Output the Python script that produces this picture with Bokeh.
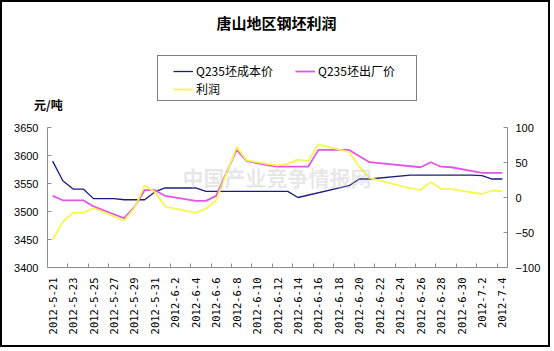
import math
import pandas as pd
from bokeh.plotting import figure
from bokeh.models import Range1d, LinearAxis, FixedTicker, Label, Legend, LegendItem
from bokeh.embed import file_html
from bokeh.resources import INLINE

title_text = "唐山地区钢坯利润"
unit_text = "元/吨"
watermark_text = "中国产业竞争情报网"
series_names = ["Q235坯成本价", "Q235坯出厂价", "利润"]

start_date = "2012-5-21"

cost_dates = ["2012-5-21", "2012-5-22", "2012-5-23", "2012-5-24", "2012-5-25", "2012-5-27",
              "2012-5-28", "2012-5-30", "2012-5-31", "2012-6-1", "2012-6-4", "2012-6-5",
              "2012-6-13", "2012-6-14", "2012-6-19", "2012-6-20", "2012-6-21", "2012-6-25",
              "2012-7-1", "2012-7-2", "2012-7-3", "2012-7-4"]
cost_values = [3590, 3555, 3540, 3540, 3523, 3523,
               3521, 3521, 3535, 3542, 3542, 3536,
               3536, 3525, 3546, 3558, 3558, 3565,
               3565, 3564, 3558, 3558]

price_dates = ["2012-5-21", "2012-5-22", "2012-5-24", "2012-5-25", "2012-5-28", "2012-5-29",
               "2012-5-30", "2012-5-31", "2012-6-1", "2012-6-4", "2012-6-5", "2012-6-6",
               "2012-6-8", "2012-6-9", "2012-6-11", "2012-6-12", "2012-6-15", "2012-6-16",
               "2012-6-19", "2012-6-21", "2012-6-26", "2012-6-27", "2012-6-28", "2012-6-29",
               "2012-7-2", "2012-7-4"]
price_values = [3528, 3520, 3520, 3509, 3488, 3508,
                3538, 3538, 3528, 3519, 3519, 3528,
                3610, 3590, 3583, 3580, 3580, 3610,
                3610, 3588, 3579, 3588, 3580, 3579,
                3569, 3569]

profit_dates = ["2012-5-21", "2012-5-22", "2012-5-23", "2012-5-24", "2012-5-25", "2012-5-28",
                "2012-5-29", "2012-5-30", "2012-5-31", "2012-6-1", "2012-6-4", "2012-6-5",
                "2012-6-6", "2012-6-8", "2012-6-9", "2012-6-11", "2012-6-12", "2012-6-13",
                "2012-6-14", "2012-6-15", "2012-6-16", "2012-6-19", "2012-6-20", "2012-6-21",
                "2012-6-25", "2012-6-26", "2012-6-27", "2012-6-28", "2012-6-29", "2012-7-2",
                "2012-7-3", "2012-7-4"]
profit_values = [-60, -35, -22, -22, -15, -33,
                 -15, 17, 8, -13, -22, -16,
                 -4, 72, 53, 48, 46, 48,
                 54, 52, 76, 65, 44, 28,
                 13, 11, 22, 12, 12, 5,
                 10, 9]

tick_labels = ["2012-5-21", "2012-5-23", "2012-5-25", "2012-5-27", "2012-5-29", "2012-5-31",
               "2012-6-2", "2012-6-4", "2012-6-6", "2012-6-8", "2012-6-10", "2012-6-12",
               "2012-6-14", "2012-6-16", "2012-6-18", "2012-6-20", "2012-6-22", "2012-6-24",
               "2012-6-26", "2012-6-28", "2012-6-30", "2012-7-2", "2012-7-4"]

left_ticks = [3400, 3450, 3500, 3550, 3600, 3650]
right_ticks = [-100, -50, 0, 50, 100]

t0 = pd.to_datetime(start_date)


def days(lst):
    return [int((pd.to_datetime(d) - t0).days) for d in lst]


tick_pos = days(tick_labels)
n_days = tick_pos[-1] + 1

# the frame covers the whole canvas; axes are drawn at fixed positions inside it
# (page px: plot area x 47..507, y 127..267, canvas inside a 2px border)
W, H = 550, 347
px_day = 460 / n_days
x0 = -0.5 - 45 / px_day
x1 = n_days - 0.5 + 45 / px_day
u_left = (left_ticks[-1] - left_ticks[0]) / 140
u_right = (right_ticks[-1] - right_ticks[0]) / 140
y_top = left_ticks[-1] + 125 * u_left
y_bot = left_ticks[0] - 82 * u_left
r_top = right_ticks[-1] + 125 * u_right
r_bot = right_ticks[0] - 82 * u_right

p = figure(width=W, height=H, output_backend="svg", toolbar_location=None,
           x_range=Range1d(x0, x1), y_range=Range1d(y_bot, y_top),
           min_border_left=0, min_border_right=0, min_border_top=0, min_border_bottom=0,
           background_fill_color="white", border_fill_color="white",
           outline_line_color=None, styles={"border": "2px solid black"})
p.extra_y_ranges = {"profit": Range1d(r_bot, r_top)}
p.xgrid.visible = False
p.ygrid.visible = False

axis_gray = "#8c8c8c"

xa = p.xaxis[0]
xa.fixed_location = left_ticks[0]
xa.bounds = (-0.5, n_days - 0.5)
xa.ticker = FixedTicker(ticks=tick_pos, minor_ticks=[t - 0.5 for t in tick_pos])
xa.major_label_overrides = {t: s for t, s in zip(tick_pos, tick_labels)}
xa.major_label_orientation = math.pi / 2
xa.major_label_text_font = "DejaVu Sans Mono"
xa.major_label_text_font_size = "10.5px"
xa.major_label_text_color = "black"
xa.major_label_standoff = 10
xa.major_tick_in = 0
xa.major_tick_out = 0
xa.minor_tick_in = 4
xa.minor_tick_out = 0
xa.minor_tick_line_color = axis_gray
xa.axis_line_color = axis_gray

ya = p.yaxis[0]
ya.fixed_location = -0.5
ya.bounds = (left_ticks[0], left_ticks[-1])
ya.ticker = FixedTicker(ticks=left_ticks)
ya.major_label_text_font = "Liberation Sans"
ya.major_label_text_font_size = "11px"
ya.major_label_text_color = "black"
ya.major_label_standoff = 9
ya.major_tick_in = 4
ya.major_tick_out = 0
ya.minor_tick_line_color = None
ya.major_tick_line_color = axis_gray
ya.axis_line_color = axis_gray

ra = LinearAxis(y_range_name="profit", ticker=FixedTicker(ticks=right_ticks),
                fixed_location=n_days - 0.5, bounds=(right_ticks[0], right_ticks[-1]))
ra.major_label_text_font = "Liberation Sans"
ra.major_label_text_font_size = "11px"
ra.major_label_text_color = "black"
ra.major_label_standoff = 8
ra.major_tick_in = 4
ra.major_tick_out = 0
ra.minor_tick_line_color = None
ra.major_tick_line_color = axis_gray
ra.axis_line_color = axis_gray
p.add_layout(ra, "right")

# watermark
p.add_layout(Label(x=21.95, y=3562, text=watermark_text, text_align="center",
                   text_baseline="middle", text_font="Noto Sans CJK SC",
                   text_font_size="21px", text_font_style="bold",
                   text_color="#bcbcbc", text_alpha=0.35))

r_cost = p.line(days(cost_dates), cost_values, line_color="#1c1c7c", line_width=1.3,
                line_join="round")
r_price = p.line(days(price_dates), price_values, line_color="#e455e4", line_width=1.8,
                 line_join="round")
r_profit = p.line(days(profit_dates), profit_values, y_range_name="profit",
                  line_color="#f6f650", line_width=1.8, line_join="round")

# title and unit
p.add_layout(Label(x=21.9, y=3837, text=title_text, text_align="center",
                   text_baseline="middle", text_font="Noto Sans CJK SC",
                   text_font_size="15px", text_font_style="bold", text_color="black"))
p.add_layout(Label(x=-1.82, y=3691, text=unit_text, text_align="left",
                   text_baseline="middle", text_font="Noto Sans CJK SC",
                   text_font_size="12px", text_font_style="bold", text_color="black"))

# legend frame (positions relative to the frame's bottom-left corner)
dummy = p.line([], [], line_alpha=0)
box = Legend(items=[LegendItem(label=" ", renderers=[dummy])], location=(154.5, 247.6),
             glyph_width=240, glyph_height=44, label_width=18, label_height=44,
             label_standoff=0, padding=0, margin=0, border_line_color="black",
             border_line_width=1, background_fill_color="white", background_fill_alpha=1)
p.add_layout(box, "center")

leg = Legend(items=[LegendItem(label=series_names[0], renderers=[r_cost]),
                    LegendItem(label=series_names[1], renderers=[r_price]),
                    LegendItem(label=series_names[2], renderers=[r_profit])],
             location=(171, 251.8), orientation="horizontal", ncols=2,
             glyph_width=20, glyph_height=14, label_width=98, label_height=14,
             label_standoff=3, spacing=1, padding=0, margin=0,
             border_line_color=None, background_fill_alpha=0,
             label_text_font="Noto Sans CJK SC", label_text_font_size="12px",
             label_text_color="black")
p.add_layout(leg, "center")

open("out.html", "w").write(file_html(p, INLINE))
